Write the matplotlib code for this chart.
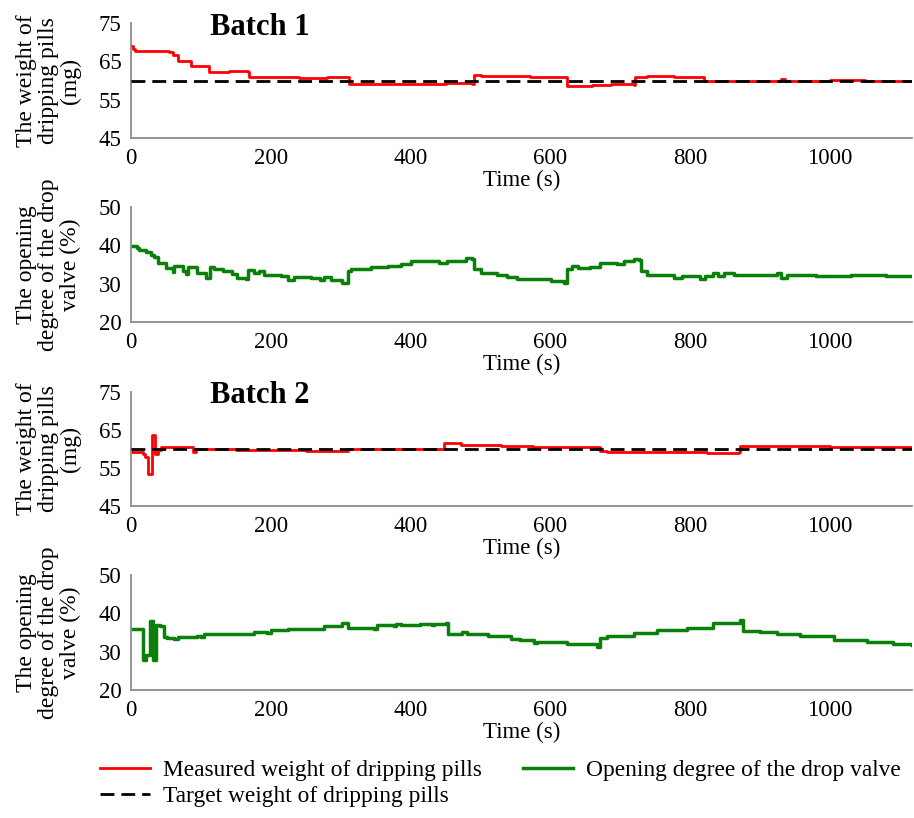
import matplotlib.pyplot as plt

plt.rcParams['font.family'] = ['Liberation Serif', 'DejaVu Serif']

# Batch 1 - measured weight of dripping pills (mg)
b1_w_t = [0, 3, 6, 55, 60, 67, 83, 86, 110, 112, 140, 167, 169, 200, 240, 280, 310, 312, 350, 400,
          450, 488, 490, 500, 529, 571, 619, 624, 660, 686, 719, 721, 738, 776, 814, 819, 870, 929,
          935, 1000, 1050, 1117]
b1_w = [68.9, 68.2, 67.6, 67.4, 66.7, 65.2, 65.0, 63.9, 63.9, 62.3, 62.4, 62.2, 60.8, 61.0, 60.7,
        60.9, 61.0, 59.1, 59.2, 59.0, 59.3, 59.1, 61.4, 61.2, 61.2, 61.0, 60.8, 58.6, 58.8, 59.0,
        58.8, 61.0, 61.2, 61.0, 60.8, 59.8, 60.0, 60.4, 59.9, 60.1, 59.9, 60.0]

# Batch 1 - opening degree of the drop valve (%)
b1_v_t = [0, 9, 12, 21, 28, 33, 38, 50, 60, 62, 74, 78, 81, 95, 107, 113, 119, 131, 145, 152,
          164, 167, 176, 183, 190, 214, 224, 233, 257, 271, 276, 286, 302, 310, 314, 343, 367, 386,
          400, 433, 440, 452, 479, 488, 490, 500, 524, 538, 552, 576, 600, 619, 624, 631, 640, 657,
          671, 695, 705, 719, 726, 729, 738, 776, 788, 814, 821, 833, 840, 848, 862, 924, 929, 938,
          980, 1030, 1080, 1117]
b1_v = [39.9, 39.3, 38.8, 38.2, 37.6, 37.0, 35.3, 34.0, 33.1, 34.7, 33.3, 32.4, 34.3, 32.7, 31.5,
        34.4, 33.8, 33.2, 32.5, 31.5, 31.2, 33.5, 32.9, 33.3, 32.3, 31.9, 31.0, 31.7, 31.6, 31.0,
        31.7, 31.0, 30.1, 33.4, 33.8, 34.3, 34.6, 35.2, 35.8, 36.0, 35.4, 35.8, 36.6, 36.4, 33.8,
        32.8, 32.3, 31.7, 31.3, 31.1, 30.8, 30.2, 33.7, 34.6, 34.0, 34.4, 35.5, 35.1, 36.0, 36.4,
        36.2, 33.4, 32.3, 31.5, 31.9, 31.2, 32.1, 32.8, 32.1, 32.8, 32.3, 32.7, 31.6, 32.3, 32.1,
        32.2, 32.0, 32.1]

# Batch 2 - measured weight of dripping pills (mg)
b2_w_t = [0, 17, 20, 24, 30, 34, 38, 43, 67, 88, 93, 150, 250, 300, 310, 448, 467, 472, 529, 575,
          667, 671, 681, 767, 824, 869, 871, 1000, 1117]
b2_w = [59.3, 58.8, 57.9, 53.5, 63.7, 58.8, 59.8, 60.6, 60.4, 59.3, 60.0, 59.8, 59.6, 59.5, 59.9,
        61.7, 61.5, 61.0, 60.9, 60.6, 60.5, 59.5, 59.1, 59.2, 59.0, 59.3, 60.8, 60.6, 60.4]

# Batch 2 - opening degree of the drop valve (%)
b2_v_t = [0, 17, 21, 27, 32, 36, 42, 47, 52, 62, 67, 95, 100, 105, 129, 176, 195, 200, 224, 248,
          276, 302, 307, 310, 319, 348, 352, 376, 379, 386, 414, 431, 433, 450, 454, 474, 481, 510,
          543, 557, 576, 580, 600, 624, 667, 671, 681, 719, 752, 795, 833, 862, 871, 875, 900, 924,
          957, 1005, 1052, 1090, 1117]
b2_v = [35.9, 27.8, 29.1, 38.0, 27.8, 37.0, 36.8, 33.9, 33.5, 33.3, 33.7, 34.2, 33.7, 34.5, 34.6,
        35.2, 35.0, 35.6, 35.9, 36.0, 36.8, 37.4, 37.6, 36.1, 36.2, 35.8, 36.9, 36.7, 37.2, 37.0,
        37.2, 36.9, 37.3, 37.5, 34.5, 35.2, 34.5, 34.0, 33.3, 33.0, 32.2, 32.6, 32.4, 32.0, 31.3,
        33.5, 34.1, 34.8, 35.7, 36.1, 37.5, 37.4, 38.2, 35.4, 35.2, 34.5, 34.0, 33.1, 32.4, 32.1,
        31.8]

target = 60
t_end = 1117
xticks = [0, 200, 400, 600, 800, 1000]

fs = 16.5
W, H = 914, 818
fig = plt.figure(figsize=(W / 100, H / 100), dpi=100)


def make_axes(top, bottom, ylim, yticks, ylabel):
    ax = fig.add_axes([131 / W, 1 - bottom / H, 781 / W, (bottom - top) / H])
    for s in ['top', 'right']:
        ax.spines[s].set_visible(False)
    for s in ['left', 'bottom']:
        ax.spines[s].set_color('#8c8c8c')
        ax.spines[s].set_linewidth(1.3)
    ax.set_xlim(0, t_end)
    ax.set_ylim(*ylim)
    ax.set_xticks(xticks)
    ax.set_yticks(yticks)
    ax.tick_params(length=0, labelsize=fs, pad=7)
    ax.set_xlabel('Time (s)', fontsize=fs, labelpad=1)
    ax.set_ylabel(ylabel, fontsize=17, linespacing=1.05)
    ax.yaxis.set_label_coords(-0.064, 0.5)
    return ax


w_label = 'The weight of\ndripping pills\n(mg)'
v_label = 'The opening\ndegree of the drop\nvalve (%)'

ax1 = make_axes(23, 138, (45, 75), [45, 55, 65, 75], w_label)
ax2 = make_axes(207, 322, (20, 50), [20, 30, 40, 50], v_label)
ax3 = make_axes(392, 506, (45, 75), [45, 55, 65, 75], w_label)
ax4 = make_axes(575, 690, (20, 50), [20, 30, 40, 50], v_label)

dash_style = (0, (5, 2.5))

red, = ax1.plot(b1_w_t, b1_w, color='#ff0000', lw=2, drawstyle='steps-post')
dash, = ax1.plot([0, t_end], [target, target], color='black', lw=2, ls=dash_style, zorder=3)
green, = ax2.plot(b1_v_t, b1_v, color='#0a800a', lw=2.5, drawstyle='steps-post')

ax3.plot(b2_w_t, b2_w, color='#ff0000', lw=2, drawstyle='steps-post')
ax3.plot([0, t_end], [target, target], color='black', lw=2, ls=dash_style, zorder=3)
ax4.plot(b2_v_t, b2_v, color='#0a800a', lw=2.5, drawstyle='steps-post')

ax1.text(0.101, 0.965, 'Batch 1', transform=ax1.transAxes, fontsize=22, fontweight='bold',
         va='center', ha='left', clip_on=False)
ax3.text(0.101, 0.965, 'Batch 2', transform=ax3.transAxes, fontsize=22, fontweight='bold',
         va='center', ha='left', clip_on=False)

fig.legend([red, dash, green],
           ['Measured weight of dripping pills', 'Target weight of dripping pills',
            'Opening degree of the drop valve'],
           loc='upper left', bbox_to_anchor=(100 / W, 1 - 760 / H), ncol=2, frameon=False,
           fontsize=16.8, handlelength=2.15, handletextpad=0.55, columnspacing=1.75,
           borderpad=0, borderaxespad=0, labelspacing=0.2)

fig.savefig('out.png', dpi=100)
